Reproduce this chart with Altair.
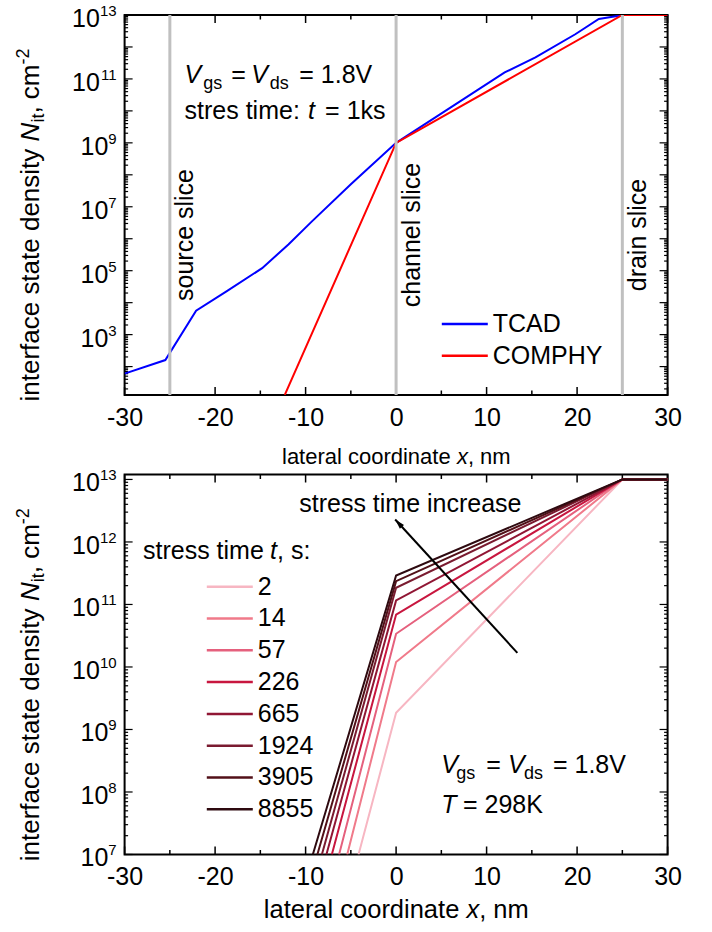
import altair as alt
import pandas as pd

FONT = "Liberation Sans"
W, H = 543, 380

# ---------------- data: top panel ----------------
tcad_x = [-30, -25.5, -22.1, -18.7, -14.8, -11.9, -9.3, -5.0, 0, 12.0, 15.4, 19.8, 22.4, 25.1, 30]
tcad_n = [60, 160, 5.6e3, 2.3e4, 1.2e5, 6.6e5, 3.5e6, 5.1e7, 1e9, 1.6e11, 4.7e11, 2.5e12, 7.5e12, 1e13, 1e13]
comphy_x = [-12.3, 0, 25, 30]
comphy_n = [13, 1e9, 1e13, 1e13]
models = ["TCAD", "COMPHY"]
model_colors = ["#0000ff", "#ff0000"]
slice_x = [-25, 0, 25]
slice_names = ["source slice", "channel slice", "drain slice"]
top_exps = [3, 5, 7, 9, 11, 13]

# ---------------- data: bottom panel ----------------
stress_times = ["2", "14", "57", "226", "665", "1924", "3905", "8855"]
stress_colors = ["#f7b6c2", "#f07a8a", "#e5607d", "#c8163f", "#901634", "#7a1b30", "#521018", "#2e0a10"]
x_at_1e7 = [-4.15, -5.4, -6.3, -7.1, -7.7, -8.2, -8.7, -9.2]
n_at_0 = [1.85e9, 1.2e10, 3.4e10, 6.9e10, 1.16e11, 1.85e11, 2.36e11, 2.9e11]
x_drain, n_drain, x_end = 25, 1e13, 30
bot_exps = [7, 8, 9, 10, 11, 12, 13]
arrow_x = [13.4, -0.1]
arrow_n = [1.68e10, 2.29e12]

x_major = [-30, -20, -10, 0, 10, 20, 30]
x_minor = [-25, -15, -5, 5, 15, 25]

# ---------------- tables ----------------
top_df = pd.DataFrame(
    [{"x": x, "n": n, "model": "TCAD"} for x, n in zip(tcad_x, tcad_n)]
    + [{"x": x, "n": n, "model": "COMPHY"} for x, n in zip(comphy_x, comphy_n)]
)
bot_rows = []
for t, xb, n0 in zip(stress_times, x_at_1e7, n_at_0):
    for x, n in [(xb, 1e7), (0, n0), (x_drain, n_drain), (x_end, n_drain)]:
        bot_rows.append({"x": x, "n": n, "t": t})
bot_df = pd.DataFrame(bot_rows)
one = pd.DataFrame({"k": [0]})

xs = alt.Scale(domain=[-30, 30], nice=False, zero=False)
ys_top = alt.Scale(type="log", domain=[12.9, 1e13], nice=False)
ys_bot = alt.Scale(type="log", domain=[1e7, 1.2e13], nice=False)
xax = alt.Axis(values=x_major, labelExpr="'' + datum.value", title=None, ticks=False, tickSize=0,
               domain=False, grid=False, labelFontSize=25, labelFont=FONT, labelColor="black",
               labelPadding=10, labelFlush=False, labelOverlap=False)


def txt(s, x, y, size=25, italic=False, align="left", baseline="alphabetic", angle=None, dx=0, dy=0):
    kw = dict(text=s, fontSize=size, font=FONT, color="black", align=align, baseline=baseline)
    if italic:
        kw["fontStyle"] = "italic"
    if angle is not None:
        kw["angle"] = angle
    if dx:
        kw["dx"] = dx
    if dy:
        kw["dy"] = dy
    return alt.Chart(one).mark_text(**kw).encode(x=alt.value(x), y=alt.value(y))


def ticks(ys, decades, subs):
    out = []
    xmaj = pd.DataFrame({"v": x_major})
    xmin = pd.DataFrame({"v": x_minor})
    for d, L in [(xmaj, 8), (xmin, 4.5)]:
        X = alt.X("v:Q", scale=xs, axis=xax)
        out.append(alt.Chart(d).mark_rule(color="black", strokeWidth=1.5).encode(x=X, y=alt.value(H), y2=alt.value(H - L)))
        out.append(alt.Chart(d).mark_rule(color="black", strokeWidth=1.5).encode(x=X, y=alt.value(0), y2=alt.value(L)))
    for vals, L in [(decades, 8), (subs, 3.5)]:
        d = pd.DataFrame({"v": vals})
        Y = alt.Y("v:Q", scale=ys, axis=None)
        out.append(alt.Chart(d).mark_rule(color="black", strokeWidth=1.2).encode(y=Y, x=alt.value(0), x2=alt.value(L)))
        out.append(alt.Chart(d).mark_rule(color="black", strokeWidth=1.2).encode(y=Y, x=alt.value(W), x2=alt.value(W - L)))
    return out


def ylabels(exps, ys):
    df = pd.DataFrame({"v": [10.0 ** e for e in exps], "e": [str(e) for e in exps]})
    base = alt.Chart(df).transform_calculate(nd="length(datum.e)")
    Y = alt.Y("v:Q", scale=ys, axis=None)
    out = []
    for nd, w in [(2, 16.7), (1, 8.3)]:
        out.append(base.transform_filter(f"datum.nd == {nd}").mark_text(
            text="10", align="right", baseline="middle", fontSize=25, font=FONT, color="black", dy=4
        ).encode(y=Y, x=alt.value(-8 - w)))
    out.append(base.mark_text(align="right", baseline="middle", fontSize=15, font=FONT, color="black", dy=-4)
               .encode(y=Y, x=alt.value(-8), text="e:N"))
    return out


def ytitle(y0):
    ax = -85.3
    parts = [("interface state density", 0, 0, 26, False), ("N", 260.1, 0, 26, True),
             ("it", 278.9, 5, 18, False), (", cm", 287.9, 0, 26, False), ("-2", 337.0, -10, 18, False)]
    return [txt(s, ax, y0, size=sz, italic=it, angle=270, dx=dx, dy=dy) for s, dx, dy, sz, it in parts]


def subs_for(lo, hi):
    return [m * 10.0 ** p for p in range(lo, hi) for m in range(2, 10)]


def legend(lx, ly):
    return alt.Legend(title=None, orient="none", legendX=lx, legendY=ly,
                      symbolType="M-2,0H2", symbolSize=529, symbolStrokeWidth=2.5,
                      symbolOffset=10.5, labelOffset=15, labelFontSize=25, labelFont=FONT,
                      labelColor="black", rowPadding=5.8, padding=0, labelLimit=0)


# ---------------- top panel ----------------
top_lines = alt.Chart(top_df).mark_line(strokeWidth=2, clip=True).encode(
    x=alt.X("x:Q", scale=xs, axis=xax),
    y=alt.Y("n:Q", scale=ys_top, axis=None),
    color=alt.Color("model:N", scale=alt.Scale(domain=models, range=model_colors), legend=legend(316.7, 296)),
    detail="model:N",
)
slice_df = pd.DataFrame({"x": slice_x, "name": slice_names})
slices = alt.Chart(slice_df).mark_rule(color="#c0c0c0", strokeWidth=3).encode(x=alt.X("x:Q", scale=xs, axis=xax))
slice_txt = alt.Chart(slice_df).mark_text(angle=270, align="center", baseline="alphabetic", fontSize=25,
                                          font=FONT, color="black", dy=23.5).encode(
    x=alt.X("x:Q", scale=xs, axis=xax), y=alt.value(220), text="name:N")

top_ann = [
    txt("V", 60, 67.7, italic=True), txt("gs", 78.7, 67.7, size=18, dy=6), txt("=", 106.7, 67.7),
    txt("V", 126.7, 67.7, italic=True), txt("ds", 145.2, 67.7, size=18, dy=6), txt("= 1.8V", 174.7, 67.7),
    txt("stres time:", 60, 104.3), txt("t", 183.5, 104.3, italic=True), txt("= 1ks", 200.5, 104.3),
    txt("lateral coordinate", 157.4, 449, size=22), txt("x", 332.3, 449, size=22, italic=True),
    txt(", nm", 343.3, 449, size=22),
]

top = alt.layer(
    *ticks(ys_top, [10.0 ** p for p in range(2, 14)], subs_for(1, 13)),
    top_lines, slices, slice_txt, *top_ann, *ylabels(top_exps, ys_top), *ytitle(386.5)
).properties(width=W, height=H)

# ---------------- bottom panel ----------------
bot_lines = alt.Chart(bot_df).mark_line(strokeWidth=2, clip=True).encode(
    x=alt.X("x:Q", scale=xs, axis=xax),
    y=alt.Y("n:Q", scale=ys_bot, axis=None),
    color=alt.Color("t:N", scale=alt.Scale(domain=stress_times, range=stress_colors), legend=legend(81.7, 99.2)),
    detail="t:N",
)
arrow_df = pd.DataFrame({"x": arrow_x, "n": arrow_n})
arrow = alt.Chart(arrow_df).mark_line(color="black", strokeWidth=2).encode(
    x=alt.X("x:Q", scale=xs, axis=xax), y=alt.Y("n:Q", scale=ys_bot, axis=None))
head = alt.Chart(arrow_df.iloc[[1]]).mark_point(
    shape="M0,0L0.45,1.6L-0.45,1.6Z", filled=True, size=156, angle=317.5, color="black", opacity=1
).encode(x=alt.X("x:Q", scale=xs, axis=xax), y=alt.Y("n:Q", scale=ys_bot, axis=None))

bot_ann = [
    txt("stress time increase", 174.7, 37.7),
    txt("stress time", 18.4, 84.7), txt("t", 145.5, 84.7, italic=True), txt(", s:", 152.5, 84.7),
    txt("V", 316.7, 298.7, italic=True), txt("gs", 331.7, 298.7, size=18, dy=6), txt("=", 361.7, 298.7),
    txt("V", 383.4, 298.7, italic=True), txt("ds", 399.4, 298.7, size=18, dy=6), txt("= 1.8V", 428.4, 298.7),
    txt("T", 316.7, 338.4, italic=True), txt("= 298K", 338.4, 338.4),
    txt("lateral coordinate", 139.2, 443.7, size=25.5), txt("x", 341.9, 443.7, size=25.5, italic=True),
    txt(", nm", 354.6, 443.7, size=25.5),
]

bot = alt.layer(
    *ticks(ys_bot, [10.0 ** p for p in range(7, 14)], subs_for(7, 13)),
    bot_lines, arrow, head, *bot_ann, *ylabels(bot_exps, ys_bot), *ytitle(386.7)
).properties(width=W, height=H)

chart = alt.vconcat(top, bot, spacing=79.5, bounds="flush").resolve_scale(color="independent").configure_view(
    stroke="black", strokeWidth=2
).properties(padding={"left": 13.6, "top": 3, "right": 10, "bottom": 5}, background="white")

chart.save("out.html", embed_options={"renderer": "svg", "actions": False})
